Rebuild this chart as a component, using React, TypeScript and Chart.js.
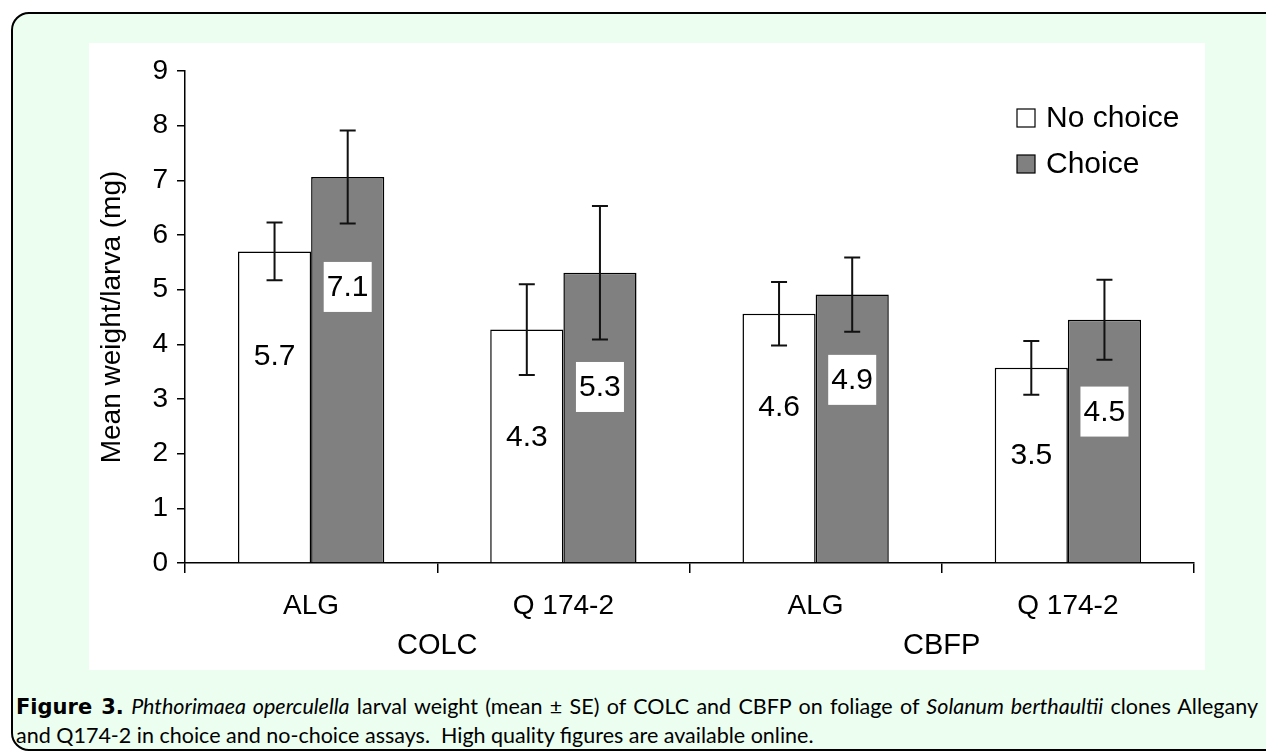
import React, { useEffect, useRef } from "react";
import { Chart, registerables } from "chart.js";

Chart.register(...registerables);

const CATEGORIES = ["ALG", "Q 174-2", "ALG", "Q 174-2"];
const GROUPS = ["COLC", "CBFP"];
const SERIES = ["No choice", "Choice"];
const NO_CHOICE = [5.7, 4.27, 4.56, 3.57];
const CHOICE = [7.06, 5.31, 4.91, 4.45];
const NO_CHOICE_SE = [0.53, 0.83, 0.58, 0.49];
const CHOICE_SE = [0.85, 1.22, 0.68, 0.73];
const NO_CHOICE_LABELS = ["5.7", "4.3", "4.6", "3.5"];
const CHOICE_LABELS = ["7.1", "5.3", "4.9", "4.5"];
const Y_MIN = 0;
const Y_MAX = 9;
const Y_STEP = 1;

// layout config (positions of the hand-placed value labels, in axis units)
const LABEL_ANCHORS = [
  [3.79, 2.31, 2.86, 1.98],
  [5.05, 3.22, 3.35, 2.77],
];

const FONT = "'Liberation Sans', Arial, sans-serif";

const overlayPlugin = {
  id: "overlay",
  afterDatasetsDraw(chart: any) {
    const ctx = chart.ctx;
    const y = chart.scales.y;
    const x = chart.scales.x;
    const ses = [NO_CHOICE_SE, CHOICE_SE];
    const labels = [NO_CHOICE_LABELS, CHOICE_LABELS];
    ctx.save();
    chart.data.datasets.forEach((ds: any, di: number) => {
      const meta = chart.getDatasetMeta(di);
      meta.data.forEach((el: any, i: number) => {
        const v = ds.data[i];
        const se = ses[di][i];
        const top = y.getPixelForValue(v + se);
        const bot = y.getPixelForValue(v - se);
        ctx.strokeStyle = "#111";
        ctx.lineWidth = 2;
        ctx.beginPath();
        ctx.moveTo(el.x, top);
        ctx.lineTo(el.x, bot);
        ctx.moveTo(el.x - 8, top);
        ctx.lineTo(el.x + 8, top);
        ctx.moveTo(el.x - 8, bot);
        ctx.lineTo(el.x + 8, bot);
        ctx.stroke();
        // value label
        const ly = y.getPixelForValue(LABEL_ANCHORS[di][i]);
        ctx.font = `30px ${FONT}`;
        if (di === 1) {
          ctx.fillStyle = "#fff";
          ctx.fillRect(el.x - 24, ly - 25, 48, 50);
        }
        ctx.fillStyle = "#000";
        ctx.textAlign = "center";
        ctx.textBaseline = "middle";
        ctx.fillText(labels[di][i], el.x, ly + 1);
      });
    });
    // group labels
    ctx.font = `29px ${FONT}`;
    ctx.fillStyle = "#000";
    ctx.textAlign = "center";
    ctx.textBaseline = "middle";
    GROUPS.forEach((g, gi) => {
      const gx = (x.getPixelForValue(gi * 2) + x.getPixelForValue(gi * 2 + 1)) / 2;
      ctx.fillText(g, gx, 603);
    });
    // legend
    const colors = [chart.data.datasets[0].backgroundColor, chart.data.datasets[1].backgroundColor];
    SERIES.forEach((s, si) => {
      const sy = 66 + si * 46;
      ctx.fillStyle = colors[si];
      ctx.fillRect(928, sy, 18, 18);
      ctx.strokeStyle = "#000";
      ctx.lineWidth = 1.2;
      ctx.strokeRect(928, sy, 18, 18);
      ctx.fillStyle = "#000";
      ctx.font = `30px ${FONT}`;
      ctx.textAlign = "left";
      ctx.textBaseline = "middle";
      ctx.fillText(s, 957, sy + 10);
    });
    ctx.restore();
  },
};

function BarChart() {
  const ref = useRef<HTMLCanvasElement>(null);
  useEffect(() => {
    if (!ref.current) return;
    const chart = new Chart(ref.current, {
      type: "bar",
      data: {
        labels: CATEGORIES,
        datasets: [
          {
            label: SERIES[0],
            data: NO_CHOICE,
            backgroundColor: "#ffffff",
            borderColor: "#000",
            borderWidth: 1.5,
            barPercentage: 1,
            categoryPercentage: 0.58,
          },
          {
            label: SERIES[1],
            data: CHOICE,
            backgroundColor: "#808080",
            borderColor: "#000",
            borderWidth: 1.5,
            barPercentage: 1,
            categoryPercentage: 0.58,
          },
        ],
      },
      options: {
        responsive: false,
        animation: false,
        layout: { padding: { top: 28, right: 11, left: 0, bottom: 0 } },
        plugins: { legend: { display: false }, tooltip: { enabled: false } },
        scales: {
          x: {
            offset: true,
            grid: {
              display: true,
              drawOnChartArea: false,
              drawTicks: true,
              tickLength: 10,
              color: "#000",
              lineWidth: 1.5,
              offset: true,
            },
            border: { display: true, color: "#000", width: 1.5 },
            ticks: { color: "#000", font: { family: FONT, size: 28 }, padding: 16, maxRotation: 0 },
            afterFit: (s: any) => {
              s.height = 107;
            },
          },
          y: {
            min: Y_MIN,
            max: Y_MAX,
            ticks: { stepSize: Y_STEP, color: "#000", font: { family: FONT, size: 28 }, padding: 9 },
            grid: { drawOnChartArea: false, drawTicks: true, tickLength: 8, color: "#000", lineWidth: 1.5 },
            border: { display: true, color: "#000", width: 1.5 },
            title: {
              display: true,
              text: "Mean weight/larva (mg)",
              color: "#000",
              font: { family: FONT, size: 28 },
              padding: { top: 6, bottom: 0 },
            },
            afterFit: (s: any) => {
              s.width = 96;
            },
          },
        },
      },
      plugins: [overlayPlugin],
    });
    return () => chart.destroy();
  }, []);
  return (
    <canvas
      ref={ref}
      width={1116}
      height={627}
      style={{ position: "absolute", left: 89, top: 43, width: 1116, height: 627, background: "#fff" }}
    />
  );
}

export default function App() {
  return (
    <div style={{ position: "absolute", left: 0, top: 0, width: 1266, height: 751, overflow: "hidden", background: "#fff" }}>
      <div
        style={{
          position: "absolute",
          left: 11,
          top: 12,
          width: 1270,
          height: 735,
          border: "2px solid #000",
          borderRadius: 18,
          background: "#ebfef0",
        }}
      />
      <BarChart />
      <div
        style={{
          position: "absolute",
          left: 16,
          top: 692,
          fontFamily: "Lato, 'Open Sans', sans-serif",
          fontSize: 21.5,
          lineHeight: "28px",
          color: "#000",
        }}
      >
        <div style={{ width: 1242, textAlign: "justify", textAlignLast: "justify", whiteSpace: "nowrap" }}>
          <b style={{ fontFamily: "'DejaVu Sans', sans-serif", fontWeight: 700, fontSize: 21 }}>Figure 3.</b>{" "}
          <i>Phthorimaea operculella</i> larval weight (mean ± SE) of COLC and CBFP on foliage of{" "}
          <i>Solanum berthaultii</i> clones Allegany
        </div>
        <div style={{ whiteSpace: "nowrap" }}>
          and Q174-2 in choice and no-choice assays.&nbsp; High quality figures are available online.
        </div>
      </div>
    </div>
  );
}
